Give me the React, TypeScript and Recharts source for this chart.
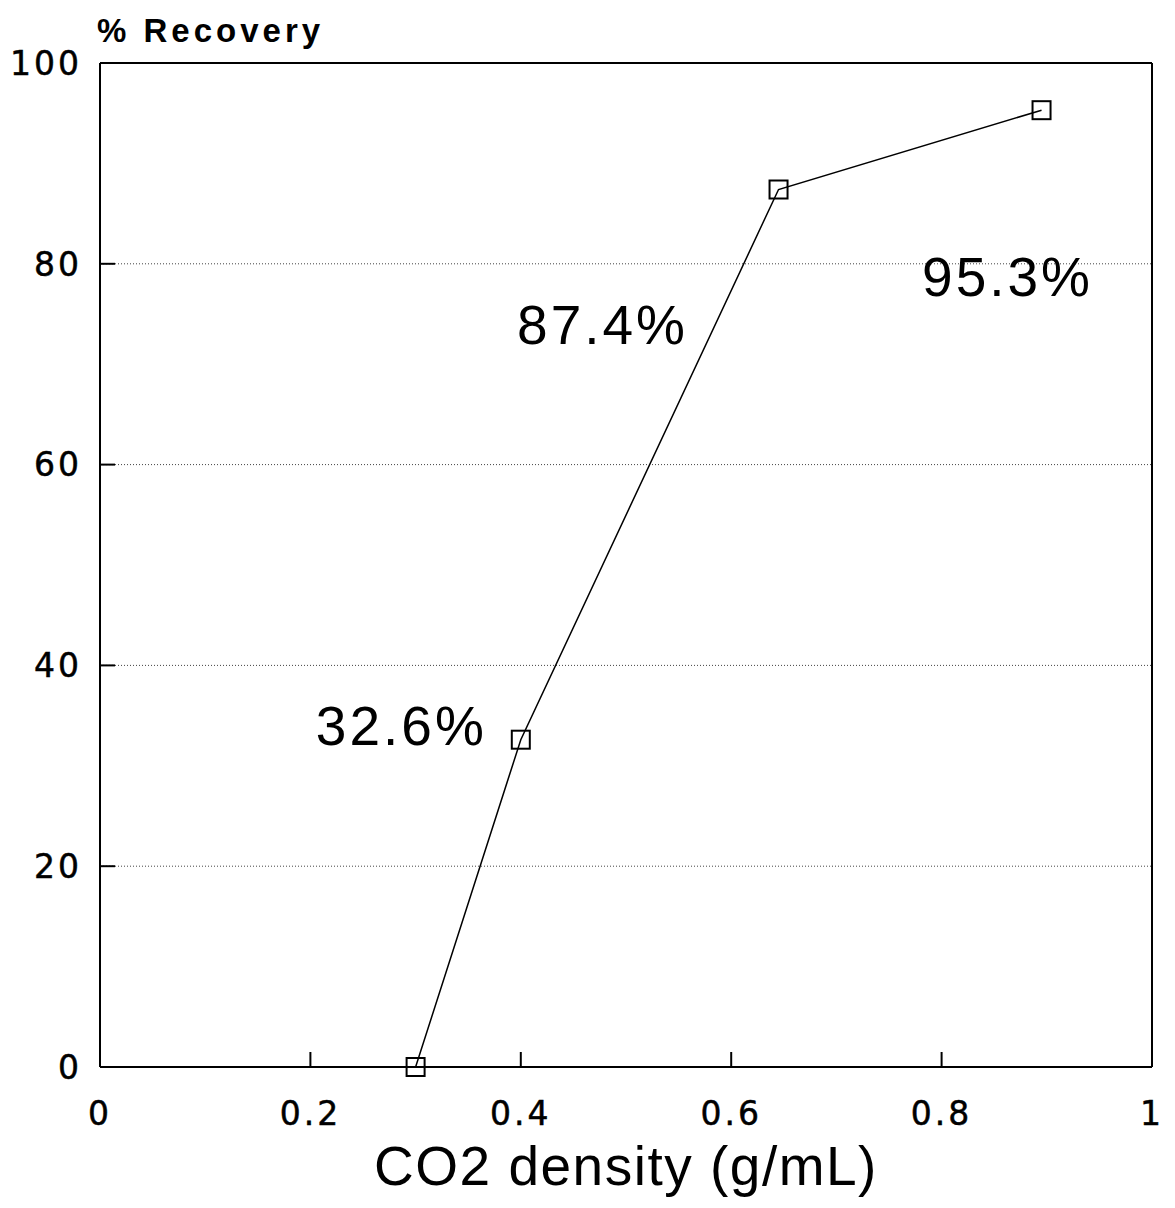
import React from "react";
import {
  LineChart,
  Line,
  XAxis,
  YAxis,
  CartesianGrid,
  ReferenceLine,
  Label,
} from "recharts";

const density = [0.3, 0.4, 0.645, 0.895];
const recovery = [0, 32.6, 87.4, 95.3];
const pointLabels = ["", "32.6%", "87.4%", "95.3%"];
const xTicks = [0, 0.2, 0.4, 0.6, 0.8, 1];
const yTicks = [0, 20, 40, 60, 80, 100];

const data = density.map((d, i) => ({ density: d, recovery: recovery[i] }));

// where each value label sits relative to its point
const labelOffsets = [
  { dx: 0, dy: 0, anchor: "middle" },
  { dx: -34, dy: 5, anchor: "end" },
  { dx: -176, dy: 154, anchor: "middle" },
  { dx: -34, dy: 186, anchor: "middle" },
];

const FONT = "'Liberation Sans', Arial, Helvetica, sans-serif";
const TICK_FONT = "'DejaVu Sans', sans-serif";

function SquareDot(props: any) {
  const { cx, cy } = props;
  if (cx == null || cy == null) return null;
  return <rect x={cx - 9} y={cy - 9} width={18} height={18} fill="none" stroke="#000" strokeWidth={2} />;
}

function ValueLabel(props: any) {
  const { x, y, index } = props;
  const text = pointLabels[index];
  if (!text) return null;
  const o = labelOffsets[index];
  return (
    <text
      x={x + o.dx}
      y={y + o.dy}
      textAnchor={o.anchor}
      fontSize={55}
      fontFamily={FONT}
      letterSpacing={3}
      fill="#000"
    >
      {text}
    </text>
  );
}

function YTitle(props: any) {
  const { viewBox } = props;
  return (
    <text
      x={viewBox.x + viewBox.width - 3}
      y={viewBox.y - 21}
      fontSize={33}
      fontWeight="bold"
      fontFamily={FONT}
      letterSpacing={4}
      fill="#000"
    >
      % Recovery
    </text>
  );
}

const tickStyle = {
  fill: "#000",
  fontSize: 33,
  fontFamily: TICK_FONT,
  letterSpacing: 3,
  stroke: "#000",
  strokeWidth: 0.5,
};

export default function App() {
  return (
    <div style={{ position: "absolute", left: 0, top: 0, background: "#fff" }}>
      <LineChart
        width={1175}
        height={1208}
        data={data}
        margin={{ top: 63, right: 23, bottom: 0, left: 10 }}
      >
        <CartesianGrid vertical={false} stroke="#444" strokeDasharray="1 2" />
        <XAxis
          type="number"
          dataKey="density"
          domain={[0, 1]}
          ticks={xTicks}
          height={141}
          tickSize={-15}
          tickMargin={50}
          stroke="#000"
          strokeWidth={2}
          tick={tickStyle}
        >
          <Label
            value="CO2 density (g/mL)"
            position="insideBottom"
            offset={23}
            fill="#000"
            fontSize={55}
            fontFamily={FONT}
            letterSpacing={1.5}
          />
        </XAxis>
        <YAxis
          type="number"
          domain={[0, 100]}
          ticks={yTicks}
          width={90}
          tickSize={-15}
          tickMargin={33}
          stroke="#000"
          strokeWidth={2}
          tick={tickStyle}
        >
          <Label content={<YTitle />} />
        </YAxis>
        <ReferenceLine y={100} stroke="#000" strokeWidth={2} />
        <ReferenceLine x={1} stroke="#000" strokeWidth={2} />
        <Line
          type="linear"
          dataKey="recovery"
          stroke="#000"
          strokeWidth={1.5}
          dot={<SquareDot />}
          activeDot={false}
          isAnimationActive={false}
          label={<ValueLabel />}
        />
      </LineChart>
    </div>
  );
}
